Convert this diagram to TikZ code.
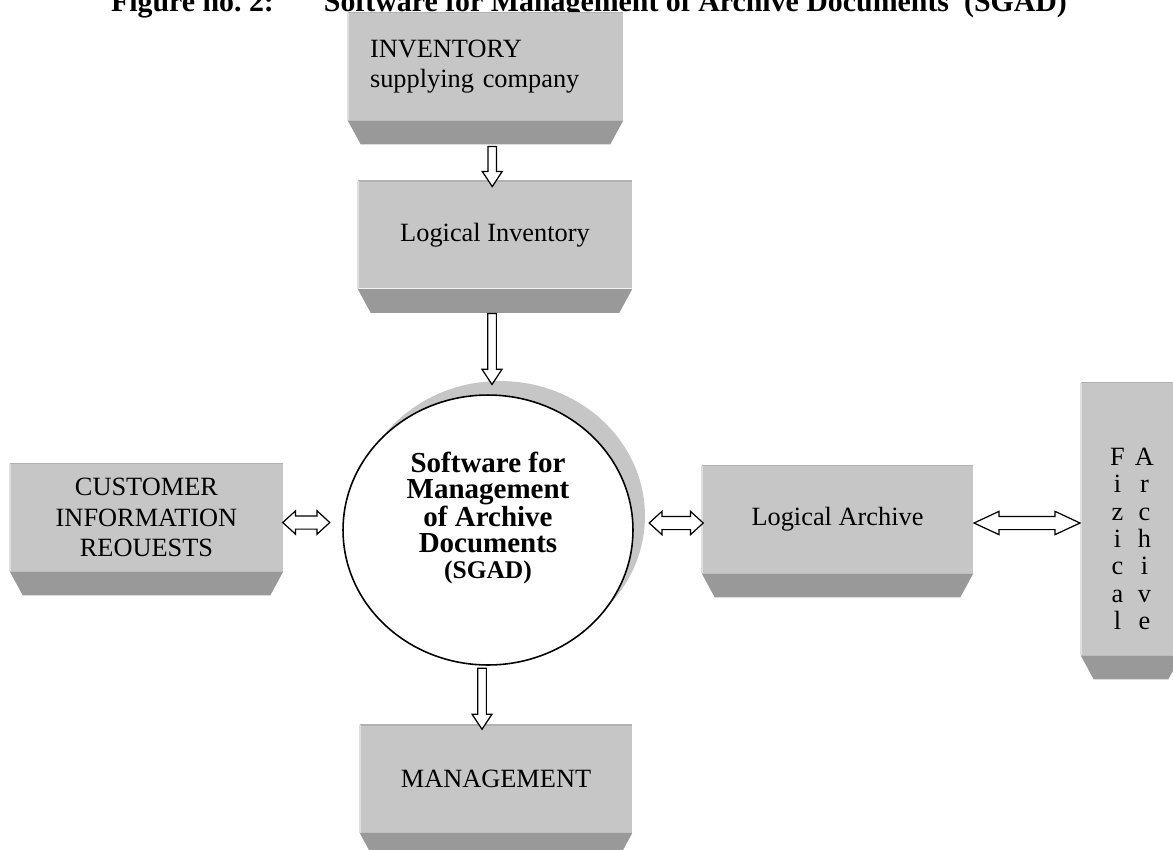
\documentclass[tikz,border=0pt]{standalone}
\usepackage{fontspec}
\setmainfont{Liberation Serif}
\usetikzlibrary{shapes.geometric, shapes.arrows, shadows, positioning, calc}

\definecolor{facegray}{RGB}{198,198,198}
\definecolor{stripgray}{RGB}{153,153,153}
\definecolor{edgelight}{RGB}{222,222,222}
\definecolor{topgray}{RGB}{178,178,178}

% one row of the narrow archive box
\newcommand{\fizrow}[2]{\makebox[0.54cm]{#1}\makebox[0.54cm]{#2}}

\begin{document}
\begin{tikzpicture}[x=0.02cm, y=-0.02cm]
    % Styles
    \tikzstyle{slab} = [rectangle, fill=facegray, inner sep=0pt, minimum width=5.48cm, minimum height=2.14cm, align=center, font=\fontsize{15}{17.5}\selectfont]
    \tikzstyle{downarrow} = [single arrow, draw, fill=white, line width=0.7pt, shape border rotate=270, inner sep=0pt, text height=0.13cm, text width=0.13cm, text depth=0pt, minimum width=0.4cm, single arrow head extend=0.1cm, single arrow tip angle=67]
    \tikzstyle{twoarrow} = [double arrow, draw, fill=white, line width=0.7pt, inner sep=0pt, text height=0.24cm, text depth=0pt, minimum width=0.44cm, double arrow head extend=0.1cm, double arrow tip angle=85]

    \useasboundingbox (0,0) rectangle (1173,849);

    % Title
    \node[font=\bfseries\fontsize{17}{20}\selectfont, anchor=base] (title) at (589,11) {Figure no.\ 2:\hspace{1cm}Software for Management of Archive Documents\hspace{0.3cm}(SGAD)};

    % Boxes
    \node[slab, text width=4.62cm, align=left, inner xsep=0.44cm] (inv) at (485.5,66.5) {INVENTORY\\supplying company};
    \node[slab] (linv) at (495,235) {Logical Inventory};
    \node[slab, minimum width=5.46cm] (cust) at (146.5,517.5) {CUSTOMER\\INFORMATION\\REOUESTS};
    \node[slab, minimum width=5.42cm] (larch) at (837.5,519.5) {Logical Archive};
    \node[slab, minimum width=2cm, minimum height=5.44cm,
          label={[align=center, yshift=-0.4cm, font=\fontsize{15}{15.6}\selectfont]center:{\fizrow{F}{A}\\\fizrow{i}{r}\\\fizrow{z}{c}\\\fizrow{i}{h}\\\fizrow{c}{i}\\\fizrow{a}{v}\\\fizrow{l}{e}}}] (fiz) at (1131,519) {};
    \node[slab, minimum width=5.44cm] (mgmt) at (496,779) {MANAGEMENT};

    % Bottom strips and edges of the boxes
    \foreach \b in {inv,linv,cust,larch,fiz,mgmt} {
        \fill[stripgray] (\b.south west) -- (\b.south east) -- ([xshift=-0.26cm,yshift=-0.48cm]\b.south east) -- ([xshift=0.26cm,yshift=-0.48cm]\b.south west) -- cycle;
        \draw[topgray, line width=0.8pt] (\b.north west) -- (\b.north east);
        \draw[edgelight, line width=1.2pt] (\b.south west) -- (\b.north west);
    }

    % SGAD
    \node[ellipse, draw, line width=0.9pt, fill=white, minimum width=5.8cm, minimum height=5.4cm,
          drop shadow={shadow xshift=0.24cm, shadow yshift=0.28cm, fill=facegray, opacity=1},
          label={[align=center, yshift=0.24cm, font=\bfseries\fontsize{16.5}{14.8}\selectfont]center:{Software for\\Management\\of Archive\\Documents\\{\fontsize{14.5}{14.8}\selectfont (SGAD)}}}] (sgad) at (488,530) {};

    % Arrows
    \path ([yshift=-0.5cm]inv.south) -- node[downarrow, minimum height=0.8cm, xshift=0.04cm] (a1) {} (linv.north);
    \path ([yshift=-0.48cm]linv.south) -- node[downarrow, pos=0, anchor=tail, minimum height=1.42cm, xshift=-0.06cm] (a2) {} (sgad.north);
    \path (sgad.south) -- node[downarrow, minimum height=1.22cm, xshift=-0.12cm] (a3) {} (sgad.south |- mgmt.north);
    \path (cust.east) -- node[twoarrow, minimum height=0.94cm, xshift=-0.13cm, yshift=-0.1cm] (a4) {} (cust.east -| sgad.west);
    \path (larch.west) -- node[twoarrow, minimum height=1.08cm, xshift=0.17cm, yshift=-0.07cm] (a5) {} (larch.west -| sgad.east);
    \path (larch.east) -- node[twoarrow, minimum height=2.12cm, yshift=-0.07cm, double arrow tip angle=50] (a6) {} (larch.east -| fiz.west);
\end{tikzpicture}
\end{document}
